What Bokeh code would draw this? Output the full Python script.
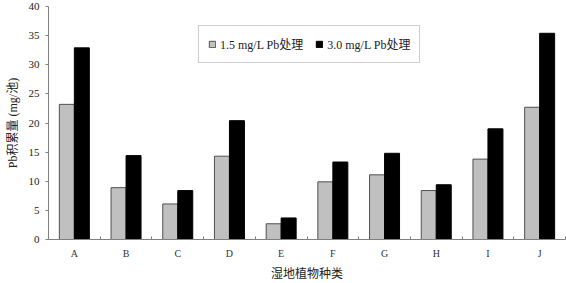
from bokeh.plotting import figure
from bokeh.models import ColumnDataSource, FixedTicker, Legend, LegendItem, Range1d
from bokeh.transform import dodge
from bokeh.embed import file_html
from bokeh.resources import INLINE

categories = ["A", "B", "C", "D", "E", "F", "G", "H", "I", "J"]
pb_15 = [23.2, 8.9, 6.1, 14.3, 2.7, 9.9, 11.1, 8.4, 13.8, 22.7]
pb_30 = [32.9, 14.4, 8.4, 20.4, 3.7, 13.3, 14.8, 9.4, 19.0, 35.4]
series_names = ["1.5 mg/L Pb处理", "3.0 mg/L Pb处理"]
y_ticks = [0, 5, 10, 15, 20, 25, 30, 35, 40]

FONT = "Liberation Serif, Noto Sans CJK SC"
LATIN = "Liberation Serif"

xs = [i + 1 for i in range(len(categories))]
src = ColumnDataSource(dict(x=xs, a=pb_15, b=pb_30))

p = figure(width=566, height=283, output_backend="svg", toolbar_location=None,
           x_range=Range1d(0.5, len(categories) + 0.5), y_range=Range1d(0, 40),
           min_border_left=48, min_border_right=1, min_border_top=6, min_border_bottom=44)
p.outline_line_color = None
p.xgrid.visible = False
p.ygrid.visible = False
p.background_fill_color = "white"
p.border_fill_color = "white"

w = 0.29
r1 = p.vbar(x=dodge("x", -w / 2), top="a", source=src, width=w, fill_color="#C0C0C0",
            line_color="#505050", line_width=1)
r2 = p.vbar(x=dodge("x", w / 2), top="b", source=src, width=w, fill_color="black",
            line_color="black", line_width=1)

# x axis
p.xaxis.ticker = FixedTicker(ticks=xs, minor_ticks=[i + 0.5 for i in range(len(categories) + 1)])
p.xaxis.major_label_overrides = {x: c for x, c in zip(xs, categories)}
p.xaxis.major_tick_line_color = None
p.xaxis.major_tick_in = 0
p.xaxis.major_tick_out = 0
p.xaxis.minor_tick_in = 3
p.xaxis.minor_tick_out = 0
p.xaxis.minor_tick_line_color = "#808080"
p.xaxis.axis_line_color = "#808080"
p.xaxis.major_label_text_font = LATIN
p.xaxis.major_label_text_font_size = "10px"
p.xaxis.major_label_text_color = "#333333"
p.xaxis.major_label_standoff = 8
p.xaxis.axis_label = "湿地植物种类"
p.xaxis.axis_label_text_font = FONT
p.xaxis.axis_label_text_font_size = "12px"
p.xaxis.axis_label_text_font_style = "normal"
p.xaxis.axis_label_text_color = "#222222"
p.xaxis.axis_label_standoff = 5

# y axis
p.yaxis.ticker = FixedTicker(ticks=y_ticks, minor_ticks=[])
p.yaxis.major_tick_in = 0
p.yaxis.major_tick_out = 3
p.yaxis.major_tick_line_color = "#808080"
p.yaxis.axis_line_color = "#808080"
p.yaxis.major_label_text_font = LATIN
p.yaxis.major_label_text_font_size = "11px"
p.yaxis.major_label_text_color = "#222222"
p.yaxis.major_label_standoff = 6
p.yaxis.axis_label = "Pb积累量 (mg/池)"
p.yaxis.axis_label_text_font = FONT
p.yaxis.axis_label_text_font_size = "12px"
p.yaxis.axis_label_text_font_style = "normal"
p.yaxis.axis_label_text_color = "#222222"
p.yaxis.axis_label_standoff = 6

legend = Legend(items=[LegendItem(label=series_names[0], renderers=[r1]),
                       LegendItem(label=series_names[1], renderers=[r2])],
                orientation="horizontal", location=(150, 176))
legend.border_line_color = "#A0A0A0"
legend.border_line_width = 1
legend.label_text_font = FONT
legend.label_text_font_size = "12px"
legend.label_text_color = "#222222"
legend.glyph_width = 8
legend.glyph_height = 8
legend.label_standoff = 4
legend.spacing = 12
legend.padding = 9
legend.margin = 0
legend.background_fill_alpha = 1
p.add_layout(legend)

open("out.html", "w").write(file_html(p, INLINE))
